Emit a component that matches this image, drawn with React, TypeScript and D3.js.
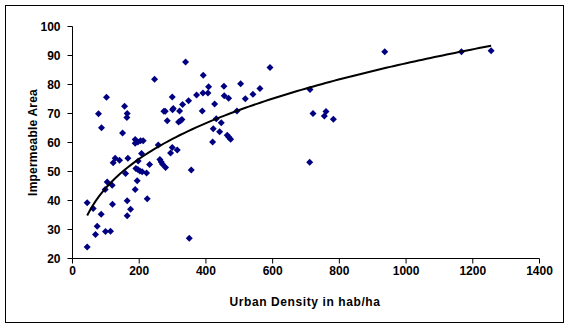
import React from 'react';
import * as d3 from 'd3';

// Urban density (hab/ha) and impermeable area (%)
const DENSITY = [
  44, 44, 62, 74, 69, 86, 78, 87, 99, 114, 98, 104, 119, 120, 122, 128, 141, 150, 156, 164,
  163, 159, 166, 164, 164, 174, 188, 188, 196, 204, 212, 190, 196, 202, 197, 188, 194, 207,
  209, 222, 224, 231, 102,
  339, 246, 392, 592, 299, 408, 406, 391, 372, 348, 330, 454, 504, 562, 541, 518, 455, 468,
  426, 389, 278, 274, 302, 300, 321, 284, 318, 324, 328, 493, 431, 446, 422, 441, 420, 464,
  469, 474, 257, 299, 294, 314, 262, 266, 270, 279, 356, 350,
  936, 1166, 712, 721, 755, 760, 782, 711, 1255,
];
const IMPERMEABLE = [
  39.2, 24.0, 37.2, 31.1, 28.3, 35.3, 69.9, 65.1, 29.3, 29.4, 43.8, 46.4, 45.3, 38.7, 53.0,
  54.6, 53.9, 63.3, 72.5, 70.0, 68.6, 49.3, 54.6, 39.9, 34.7, 37.0, 61.0, 59.7, 60.2, 60.6,
  60.6, 51.0, 50.7, 50.2, 53.6, 43.8, 46.8, 56.2, 49.9, 49.5, 40.6, 52.4, 75.6,
  87.8, 81.8, 83.2, 85.9, 75.7, 79.2, 77.1, 77.1, 76.4, 74.4, 73.1, 79.4, 80.3, 78.6, 76.6,
  75.1, 76.1, 75.3, 73.3, 70.9, 70.8, 70.8, 71.7, 71.3, 70.9, 67.5, 67.1, 67.5, 67.9, 70.9,
  68.2, 66.8, 64.7, 63.7, 60.2, 62.5, 61.8, 61.1, 59.1, 58.3, 56.4, 57.4, 54.1, 53.3, 52.5,
  51.4, 50.5, 27.0,
  91.3, 91.3, 78.3, 70.0, 69.1, 70.7, 68.0, 53.2, 91.6,
];

const X_TICKS = [0, 200, 400, 600, 800, 1000, 1200, 1400];
const Y_TICKS = [20, 30, 40, 50, 60, 70, 80, 90, 100];

const W = 571;
const H = 329;
const FONT = '"Liberation Sans", Arial, sans-serif';

const App: React.FC = () => {
  const x = d3.scaleLinear().domain([0, 1400]).range([72.5, 539.5]);
  const y = d3.scaleLinear().domain([20, 100]).range([258.5, 26.5]);

  // power trendline (Excel style): ln y = ln a + b ln x
  const pts = DENSITY.map((d, i) => [Math.log(d), Math.log(IMPERMEABLE[i])]);
  const mx = d3.mean(pts, (p) => p[0])!;
  const my = d3.mean(pts, (p) => p[1])!;
  const b =
    d3.sum(pts, (p) => (p[0] - mx) * (p[1] - my)) / d3.sum(pts, (p) => (p[0] - mx) ** 2);
  const a = Math.exp(my - b * mx);
  const [xMin, xMax] = d3.extent(DENSITY) as [number, number];
  const trend = d3.range(0, 101).map((i) => {
    const xv = xMin + ((xMax - xMin) * i) / 100;
    return [xv, a * Math.pow(xv, b)] as [number, number];
  });
  const line = d3
    .line<[number, number]>()
    .x((d) => x(d[0]))
    .y((d) => y(d[1]));

  const diamond = 'M0,-3.5L3.5,0L0,3.5L-3.5,0Z';

  return (
    <div style={{ position: 'fixed', left: 0, top: 0 }}>
      <svg width={W} height={H} style={{ display: 'block', background: '#fff' }}>
        <rect x={5.5} y={5.5} width={558} height={317} fill="#fff" stroke="#000" />

        {/* y axis */}
        <line x1={x(0)} x2={x(0)} y1={y(100)} y2={y(20)} stroke="#000" />
        {Y_TICKS.map((t) => (
          <g key={t}>
            <line x1={x(0) - 5} x2={x(0)} y1={y(t)} y2={y(t)} stroke="#000" />
            <text
              x={x(0) - 12}
              y={y(t)}
              dy="0.36em"
              textAnchor="end"
              fontFamily={FONT}
              fontWeight="bold"
              fontSize={12}
            >
              {t}
            </text>
          </g>
        ))}

        {/* x axis */}
        <line x1={x(0)} x2={x(1400)} y1={y(20)} y2={y(20)} stroke="#000" />
        {X_TICKS.map((t) => (
          <g key={t}>
            <line x1={x(t)} x2={x(t)} y1={y(20)} y2={y(20) + 5} stroke="#000" />
            <text
              x={x(t)}
              y={y(20) + 16}
              textAnchor="middle"
              fontFamily={FONT}
              fontWeight="bold"
              fontSize={12}
            >
              {t}
            </text>
          </g>
        ))}

        {/* points */}
        {DENSITY.map((d, i) => (
          <path
            key={i}
            d={diamond}
            transform={`translate(${x(d)},${y(IMPERMEABLE[i])})`}
            fill="#000080"
          />
        ))}

        {/* trendline */}
        <path d={line(trend) ?? ''} fill="none" stroke="#000" strokeWidth={2} />

        <text
          x={305}
          y={306}
          textAnchor="middle"
          fontFamily={FONT}
          fontWeight="bold"
          fontSize={12}
          letterSpacing={0.6}
        >
          Urban Density in hab/ha
        </text>
        <text
          transform={`translate(37,${(y(20) + y(100)) / 2}) rotate(-90)`}
          textAnchor="middle"
          fontFamily={FONT}
          fontWeight="bold"
          fontSize={12}
          letterSpacing={0.2}
        >
          Impermeable Area
        </text>
      </svg>
    </div>
  );
};

export default App;
